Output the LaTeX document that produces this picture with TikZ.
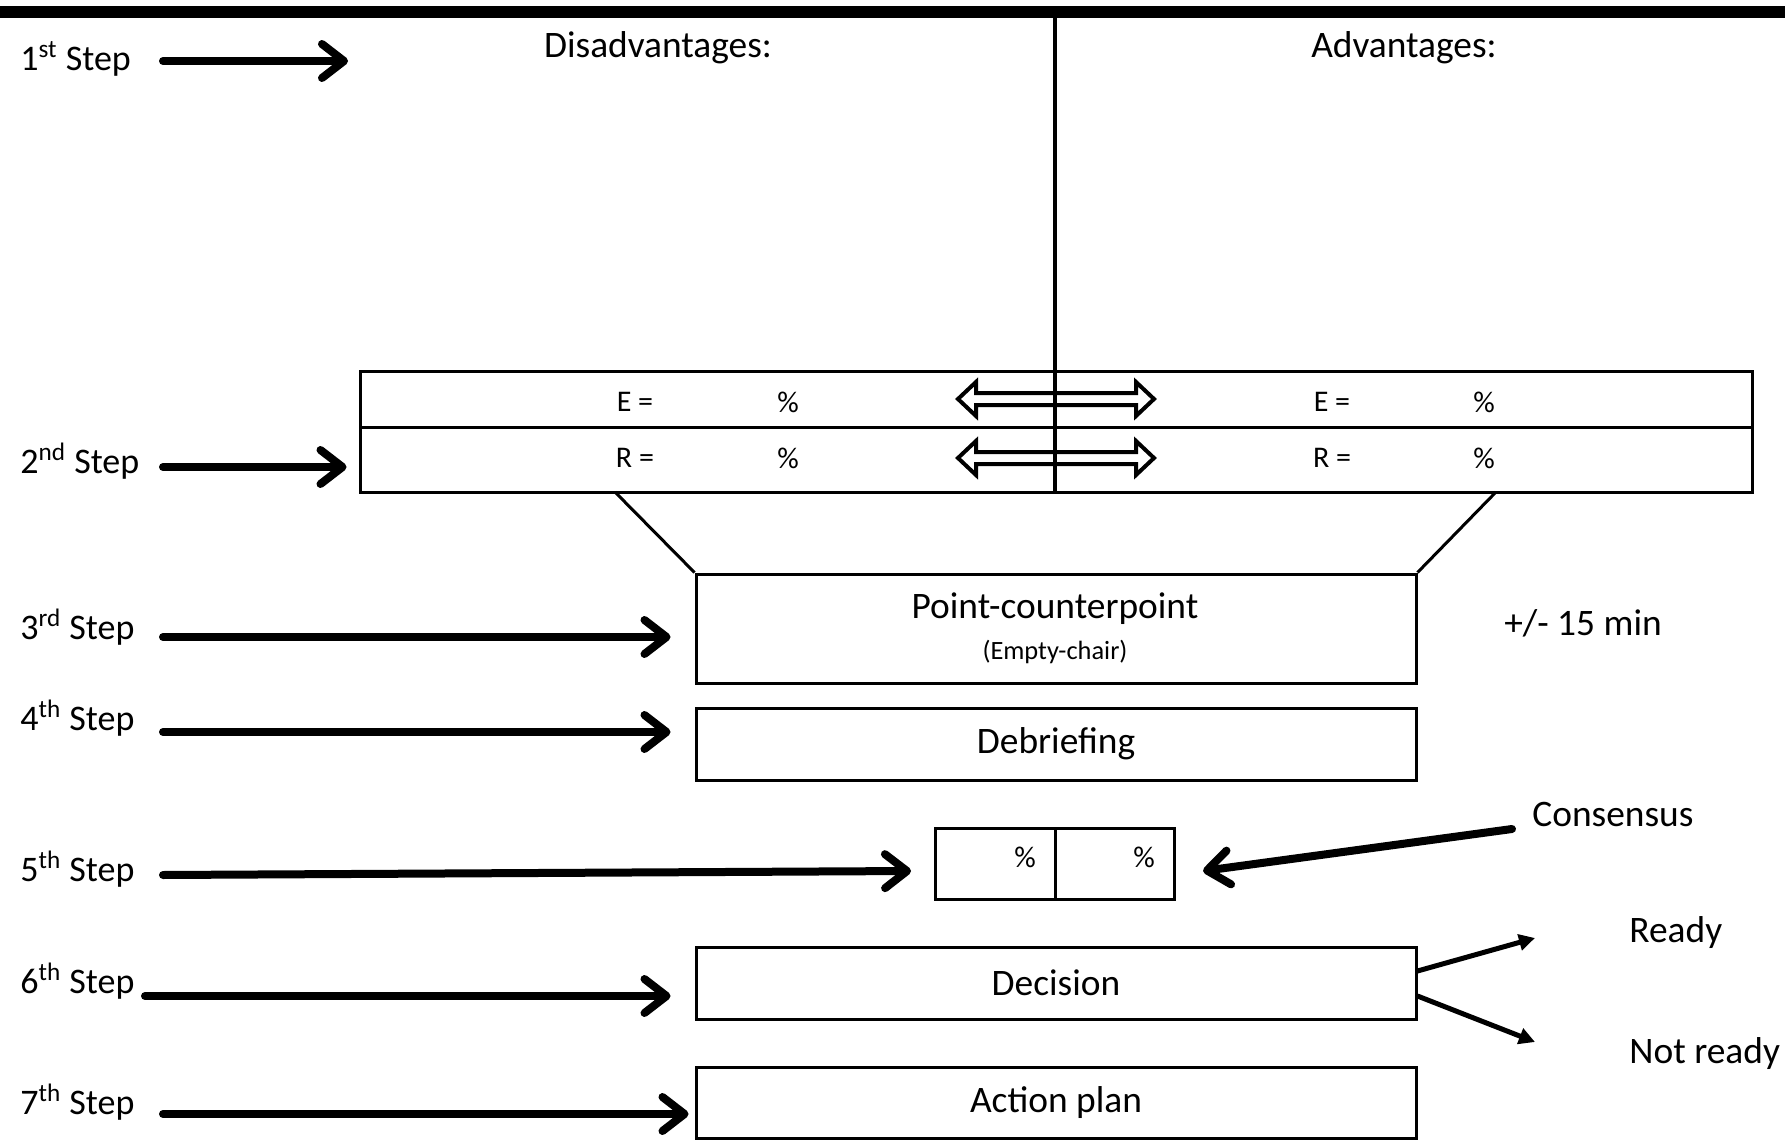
\documentclass[tikz,border=0pt]{standalone}
\usepackage{fontspec}
\setmainfont{Carlito}
\usetikzlibrary{arrows.meta}
\begin{document}
\begin{tikzpicture}[x=0.5pt,y=-0.5pt]
      \tikzstyle{stepedge} = [line width=4pt,line cap=round,-{Straight Barb[length=11pt,width=17pt,line cap=round,line join=round]}]
      \tikzstyle{choiceedge} = [line width=2.5pt,-{Triangle[length=8pt,width=8pt]}]
      \tikzstyle{box} = [draw,line width=1.5pt,inner sep=0pt,minimum width=360pt]
      \tikzstyle{steplabel} = [anchor=west,inner sep=0pt,font=\fontsize{18}{21}\selectfont]
      \tikzstyle{big} = [inner sep=0pt,font=\fontsize{18.7}{22}\selectfont]
      \tikzstyle{small} = [inner sep=0pt,font=\fontsize{15}{17}\selectfont]
      \useasboundingbox (0,0) rectangle (1785,1140);
      % top bar and middle line
      \fill (0,6) rectangle (1785,18);
      \draw[line width=2pt] (1055,18) -- (1055,492);
      \node[big] (dis) at (658,48) {Disadvantages:};
      \node[big] (adv) at (1404,48) {Advantages:};
      % E and R rows
      \node[box,minimum width=696pt,minimum height=28pt] (eRow) at (1056,399) {};
      \node[box,minimum width=696pt,minimum height=32.5pt] (rRow) at (1056,459.5) {};
      \node[small] (eL) at (635,402) {E =};
      \node[small] (eLp) at (788,402) {\%};
      \node[small] (eR) at (1332,402) {E =};
      \node[small] (eRp) at (1484,402) {\%};
      \node[small] (rL) at (635,458) {R =};
      \node[small] (rLp) at (788,458) {\%};
      \node[small] (rR) at (1332,458) {R =};
      \node[small] (rRp) at (1484,458) {\%};
      \foreach \y in {399,458}
        \draw[line width=2pt,line join=miter]
          (958,\y) -- (976,\y-17) -- (976,\y-6) -- (1136,\y-6) -- (1136,\y-17) -- (1154,\y)
          -- (1136,\y+17) -- (1136,\y+6) -- (976,\y+6) -- (976,\y+17) -- cycle;
      % boxes
      \node[box,minimum height=54.5pt] (pc) at (1056,628.5) {};
      \node[big] (pcT) at (1055,609) {Point-counterpoint};
      \node[inner sep=0pt,font=\fontsize{13.2}{15}\selectfont] (pcS) at (1055,652) {(Empty-chair)};
      \node[big] (time) at (1583,623) {+/- 15 min};
      \node[box,minimum height=36pt,big] (deb) at (1056,744) {Debriefing};
      \node[box,minimum width=59.75pt,minimum height=35.5pt] (voteL) at (995.5,863.5) {};
      \node[box,minimum width=59.75pt,minimum height=35.5pt] (voteR) at (1115,863.5) {};
      \node[small] (vLp) at (1025,857) {\%};
      \node[small] (vRp) at (1144,857) {\%};
      \node[box,minimum height=36pt,big] (dec) at (1056,983) {Decision};
      \node[box,minimum height=35.5pt,big] (act) at (1056,1102.5) {Action plan};
      % funnel
      \coordinate (fl) at (615,492);
      \coordinate (fr) at (1496,492);
      \draw[line width=1.5pt] (fl) -- (pc.north west);
      \draw[line width=1.5pt] (fr) -- (pc.north east);
      % step labels
      \node[steplabel] (s1) at (20,59) {1\textsuperscript{st} Step};
      \node[steplabel] (s2) at (20,461) {2\textsuperscript{nd} Step};
      \node[steplabel] (s3) at (20,627) {3\textsuperscript{rd} Step};
      \node[steplabel] (s4) at (20,718) {4\textsuperscript{th} Step};
      \node[steplabel] (s5) at (20,869) {5\textsuperscript{th} Step};
      \node[steplabel] (s6) at (20,981) {6\textsuperscript{th} Step};
      \node[steplabel] (s7) at (20,1102) {7\textsuperscript{th} Step};
      % step arrows
      \coordinate (t1) at (163,61);
      \coordinate (h1) at (348,61);
      \coordinate (t2) at (163,467);
      \coordinate (t3) at (163,637);
      \coordinate (t4) at (163,732);
      \coordinate (t5) at (163,875);
      \coordinate (h5) at (911,871);
      \coordinate (t6) at (145,996);
      \coordinate (t7) at (163,1114);
      \draw[stepedge] (t1) -- (h1);
      \draw[stepedge,shorten >=6pt] (t2) -- (t2 -| rRow.west);
      \draw[stepedge,shorten >=12pt] (t3) -- (t3 -| pc.west);
      \draw[stepedge,shorten >=12pt] (t4) -- (t4 -| deb.west);
      \draw[stepedge] (t5) -- (h5);
      \draw[stepedge,shorten >=12pt] (t6) -- (t6 -| dec.west);
      \draw[stepedge,shorten >=3pt] (t7) -- (t7 -| act.west);
      % consensus and choices
      \node[big,anchor=west] (cons) at (1532,814) {Consensus};
      \coordinate (c0) at (1512,829);
      \coordinate (c1) at (1203,871);
      \draw[stepedge] (c0) -- (c1);
      \node[big,anchor=west] (ready) at (1629,933) {Ready};
      \node[big,anchor=west] (notready) at (1629,1054) {Not ready};
      \coordinate (r1) at (1535,938);
      \coordinate (n1) at (1535,1042);
      \draw[choiceedge] ([yshift=6pt]dec.east) -- (r1);
      \draw[choiceedge] ([yshift=-6.5pt]dec.east) -- (n1);
    \end{tikzpicture}
\end{document}
